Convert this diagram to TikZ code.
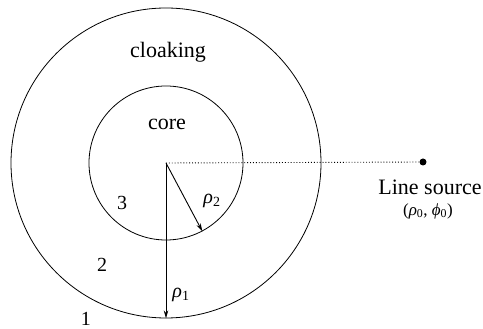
\documentclass[tikz,border=0pt]{standalone}
\usepackage{fontspec}
\setmainfont{Liberation Serif}
\usetikzlibrary{arrows.meta}
\newcommand{\rhosub}[1]{\textit{ρ}\textsubscript{#1}}
\begin{document}
\begin{tikzpicture}[x=1pt,y=1pt,
  ring/.style={circle,draw,line width=0.8pt,inner sep=0pt},
  lbl/.style={inner sep=0pt,font=\fontsize{22}{26}\selectfont},
  sym/.style={inner sep=0pt,font=\fontsize{20}{24}\selectfont},
  small/.style={inner sep=0pt,font=\fontsize{17}{20}\selectfont},
  radius arrow/.style={line width=0.9pt,-{Stealth[length=8pt,width=4.5pt]}}]
\useasboundingbox (0,0) rectangle (483,329);
\coordinate (o) at (166,166);
\node[ring,minimum size=310pt] (outer) at (o) {};
\node[ring,minimum size=154pt] (inner) at (o) {};
\node[circle,fill,inner sep=0pt,minimum size=7pt] (src) at (423,167) {};
\draw[line width=0.9pt,dotted] (o) -- (src);
\draw[radius arrow] (o) -- (outer.south);
\draw[radius arrow] (o) -- (inner.-62);
\node[lbl] (cloak) at (168,277) {cloaking};
\node[lbl] (core) at (167,205) {core};
\node[sym] (r3) at (122,126) {3};
\node[sym] (r2) at (102,64) {2};
\node[sym] (r1) at (86,10) {1};
\node[sym] (rho2) at (212,128) {\rhosub{2}};
\node[sym] (rho1) at (181,34) {\rhosub{1}};
\node[lbl] (ls) at (430,142) {Line source};
\node[small] (coord) at (428,118) {(\rhosub{0}, \textit{ϕ}\textsubscript{0})};
\end{tikzpicture}
\end{document}
